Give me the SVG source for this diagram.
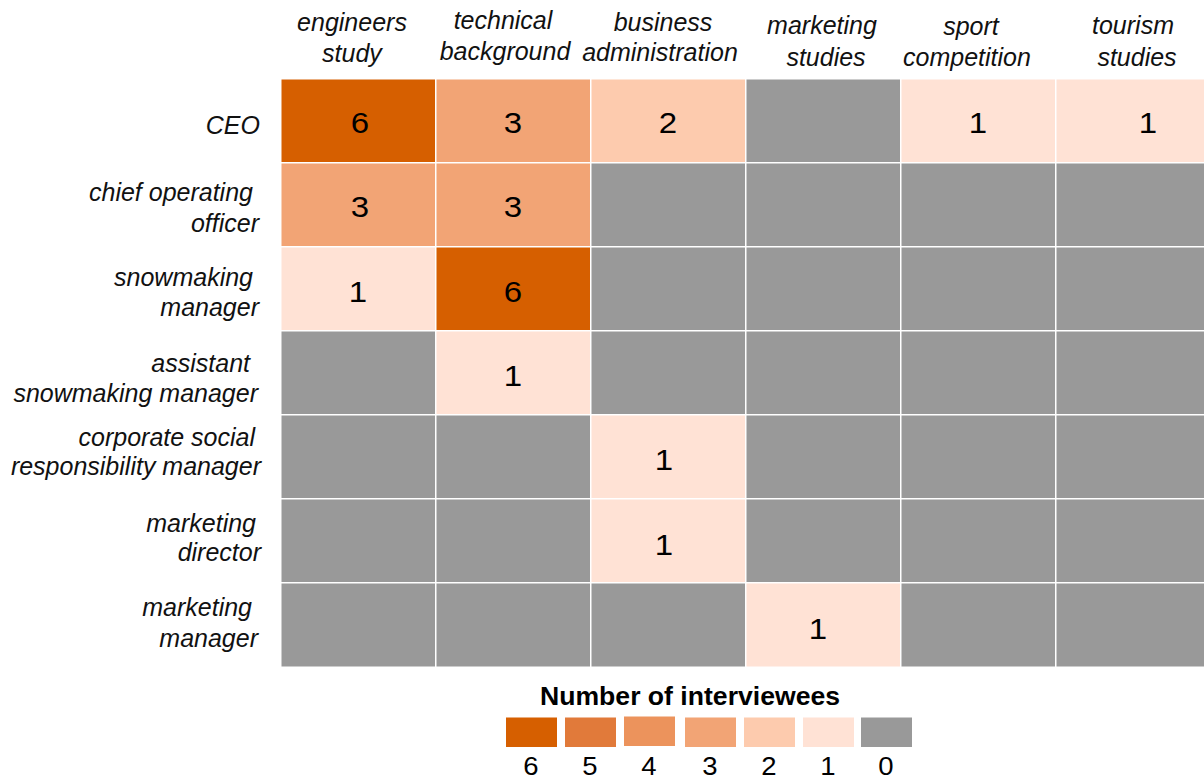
<svg xmlns="http://www.w3.org/2000/svg" width="1204" height="782" viewBox="0 0 1204 782">
<style>
.hd{font-family:"Liberation Sans",Arial,sans-serif;font-style:italic;font-size:25px;fill:#111;text-anchor:middle}
.rl{font-family:"Liberation Sans",Arial,sans-serif;font-style:italic;font-size:25px;fill:#111;text-anchor:end}
.num{font-family:"Liberation Sans",Arial,sans-serif;font-size:30px;fill:#000;text-anchor:middle}
.lt{font-family:"Liberation Sans",Arial,sans-serif;font-weight:bold;font-size:25px;fill:#000;text-anchor:middle}
.ln{font-family:"Liberation Sans",Arial,sans-serif;font-size:25px;fill:#000;text-anchor:middle}
.c6{fill:#D65F00}.c5{fill:#E17A3A}.c4{fill:#EC935C}.c3{fill:#F2A475}.c2{fill:#FDCBAE}.c1{fill:#FFE2D5}.c0{fill:#999999}
</style>
<rect width="1204" height="782" fill="#fff"/>
<g id="headers">
<text class="hd" x="352" y="31">engineers</text><text class="hd" x="352" y="62">study</text>
<text class="hd" x="503" y="29">technical</text><text class="hd" x="505" y="60">background</text>
<text class="hd" x="663" y="31">business</text><text class="hd" x="660" y="61">administration</text>
<text class="hd" x="822" y="34">marketing</text><text class="hd" x="826" y="66">studies</text>
<text class="hd" x="971" y="35">sport</text><text class="hd" x="967" y="66">competition</text>
<text class="hd" x="1133" y="34">tourism</text><text class="hd" x="1137" y="66">studies</text>
</g>
<g id="row-labels">
<text class="rl" x="260" y="134">CEO</text>
<text class="rl" x="253" y="201">chief operating</text><text class="rl" x="259" y="232">officer</text>
<text class="rl" x="253" y="286">snowmaking</text><text class="rl" x="259" y="316">manager</text>
<text class="rl" x="250" y="372">assistant</text><text class="rl" x="258" y="402">snowmaking manager</text>
<text class="rl" x="255" y="446">corporate social</text><text class="rl" x="261" y="475">responsibility manager</text>
<text class="rl" x="256" y="532">marketing</text><text class="rl" x="261" y="561">director</text>
<text class="rl" x="252" y="616">marketing</text><text class="rl" x="258" y="647">manager</text>
</g>
<g id="grid">
<g id="r1">
<g id="r1c1"><rect class="c6" x="281.5" y="79.5" width="153.5" height="82.5"/><text class="num" transform="translate(360 133) scale(1.1 1)">6</text></g>
<g id="r1c2"><rect class="c3" x="436.5" y="79.5" width="153.5" height="82.5"/><text class="num" transform="translate(513 133) scale(1.1 1)">3</text></g>
<g id="r1c3"><rect class="c2" x="591.5" y="79.5" width="153.5" height="82.5"/><text class="num" transform="translate(668 133) scale(1.1 1)">2</text></g>
<g id="r1c4"><rect class="c0" x="746.5" y="79.5" width="153.5" height="82.5"/></g>
<g id="r1c5"><rect class="c1" x="901.5" y="79.5" width="153.5" height="82.5"/><text class="num" transform="translate(978 133) scale(1.1 1)">1</text></g>
<g id="r1c6"><rect class="c1" x="1056.5" y="79.5" width="190" height="82.5"/><text class="num" transform="translate(1148 133) scale(1.1 1)">1</text></g>
</g>
<g id="r2">
<g id="r2c1"><rect class="c3" x="281.5" y="163.5" width="153.5" height="82.5"/><text class="num" transform="translate(360 217) scale(1.1 1)">3</text></g>
<g id="r2c2"><rect class="c3" x="436.5" y="163.5" width="153.5" height="82.5"/><text class="num" transform="translate(513 217) scale(1.1 1)">3</text></g>
<g id="r2c3"><rect class="c0" x="591.5" y="163.5" width="153.5" height="82.5"/></g>
<g id="r2c4"><rect class="c0" x="746.5" y="163.5" width="153.5" height="82.5"/></g>
<g id="r2c5"><rect class="c0" x="901.5" y="163.5" width="153.5" height="82.5"/></g>
<g id="r2c6"><rect class="c0" x="1056.5" y="163.5" width="190" height="82.5"/></g>
</g>
<g id="r3">
<g id="r3c1"><rect class="c1" x="281.5" y="247.5" width="153.5" height="82.5"/><text class="num" transform="translate(358 302) scale(1.1 1)">1</text></g>
<g id="r3c2"><rect class="c6" x="436.5" y="247.5" width="153.5" height="82.5"/><text class="num" transform="translate(513 302) scale(1.1 1)">6</text></g>
<g id="r3c3"><rect class="c0" x="591.5" y="247.5" width="153.5" height="82.5"/></g>
<g id="r3c4"><rect class="c0" x="746.5" y="247.5" width="153.5" height="82.5"/></g>
<g id="r3c5"><rect class="c0" x="901.5" y="247.5" width="153.5" height="82.5"/></g>
<g id="r3c6"><rect class="c0" x="1056.5" y="247.5" width="190" height="82.5"/></g>
</g>
<g id="r4">
<g id="r4c1"><rect class="c0" x="281.5" y="331.5" width="153.5" height="82.5"/></g>
<g id="r4c2"><rect class="c1" x="436.5" y="331.5" width="153.5" height="82.5"/><text class="num" transform="translate(513 386) scale(1.1 1)">1</text></g>
<g id="r4c3"><rect class="c0" x="591.5" y="331.5" width="153.5" height="82.5"/></g>
<g id="r4c4"><rect class="c0" x="746.5" y="331.5" width="153.5" height="82.5"/></g>
<g id="r4c5"><rect class="c0" x="901.5" y="331.5" width="153.5" height="82.5"/></g>
<g id="r4c6"><rect class="c0" x="1056.5" y="331.5" width="190" height="82.5"/></g>
</g>
<g id="r5">
<g id="r5c1"><rect class="c0" x="281.5" y="415.5" width="153.5" height="82.5"/></g>
<g id="r5c2"><rect class="c0" x="436.5" y="415.5" width="153.5" height="82.5"/></g>
<g id="r5c3"><rect class="c1" x="591.5" y="415.5" width="153.5" height="82.5"/><text class="num" transform="translate(664 470) scale(1.1 1)">1</text></g>
<g id="r5c4"><rect class="c0" x="746.5" y="415.5" width="153.5" height="82.5"/></g>
<g id="r5c5"><rect class="c0" x="901.5" y="415.5" width="153.5" height="82.5"/></g>
<g id="r5c6"><rect class="c0" x="1056.5" y="415.5" width="190" height="82.5"/></g>
</g>
<g id="r6">
<g id="r6c1"><rect class="c0" x="281.5" y="499.5" width="153.5" height="82.5"/></g>
<g id="r6c2"><rect class="c0" x="436.5" y="499.5" width="153.5" height="82.5"/></g>
<g id="r6c3"><rect class="c1" x="591.5" y="499.5" width="153.5" height="82.5"/><text class="num" transform="translate(664 555) scale(1.1 1)">1</text></g>
<g id="r6c4"><rect class="c0" x="746.5" y="499.5" width="153.5" height="82.5"/></g>
<g id="r6c5"><rect class="c0" x="901.5" y="499.5" width="153.5" height="82.5"/></g>
<g id="r6c6"><rect class="c0" x="1056.5" y="499.5" width="190" height="82.5"/></g>
</g>
<g id="r7">
<g id="r7c1"><rect class="c0" x="281.5" y="583.5" width="153.5" height="83"/></g>
<g id="r7c2"><rect class="c0" x="436.5" y="583.5" width="153.5" height="83"/></g>
<g id="r7c3"><rect class="c0" x="591.5" y="583.5" width="153.5" height="83"/></g>
<g id="r7c4"><rect class="c1" x="746.5" y="583.5" width="153.5" height="83"/><text class="num" transform="translate(818 639) scale(1.1 1)">1</text></g>
<g id="r7c5"><rect class="c0" x="901.5" y="583.5" width="153.5" height="83"/></g>
<g id="r7c6"><rect class="c0" x="1056.5" y="583.5" width="190" height="83"/></g>
</g>
</g>
<g id="connectors"/>
<g id="legend">
<text class="lt" x="690" y="705" textLength="300" lengthAdjust="spacingAndGlyphs">Number of interviewees</text>
<g id="leg6"><rect class="c6" x="506" y="717.5" width="51" height="29.5"/><text class="ln" transform="translate(531 775) scale(1.1 1)">6</text></g>
<g id="leg5"><rect class="c5" x="565" y="717.5" width="51" height="29.5"/><text class="ln" transform="translate(590 775) scale(1.1 1)">5</text></g>
<g id="leg4"><rect class="c4" x="624" y="716.5" width="51" height="29.5"/><text class="ln" transform="translate(649 775) scale(1.1 1)">4</text></g>
<g id="leg3"><rect class="c3" x="685" y="717.5" width="51" height="29.5"/><text class="ln" transform="translate(710 775) scale(1.1 1)">3</text></g>
<g id="leg2"><rect class="c2" x="744" y="717.5" width="51" height="29.5"/><text class="ln" transform="translate(769 775) scale(1.1 1)">2</text></g>
<g id="leg1"><rect class="c1" x="803" y="717.5" width="51" height="29.5"/><text class="ln" transform="translate(828 775) scale(1.1 1)">1</text></g>
<g id="leg0"><rect class="c0" x="861" y="717.5" width="51" height="29.5"/><text class="ln" transform="translate(886 775) scale(1.1 1)">0</text></g>
</g>
</svg>
